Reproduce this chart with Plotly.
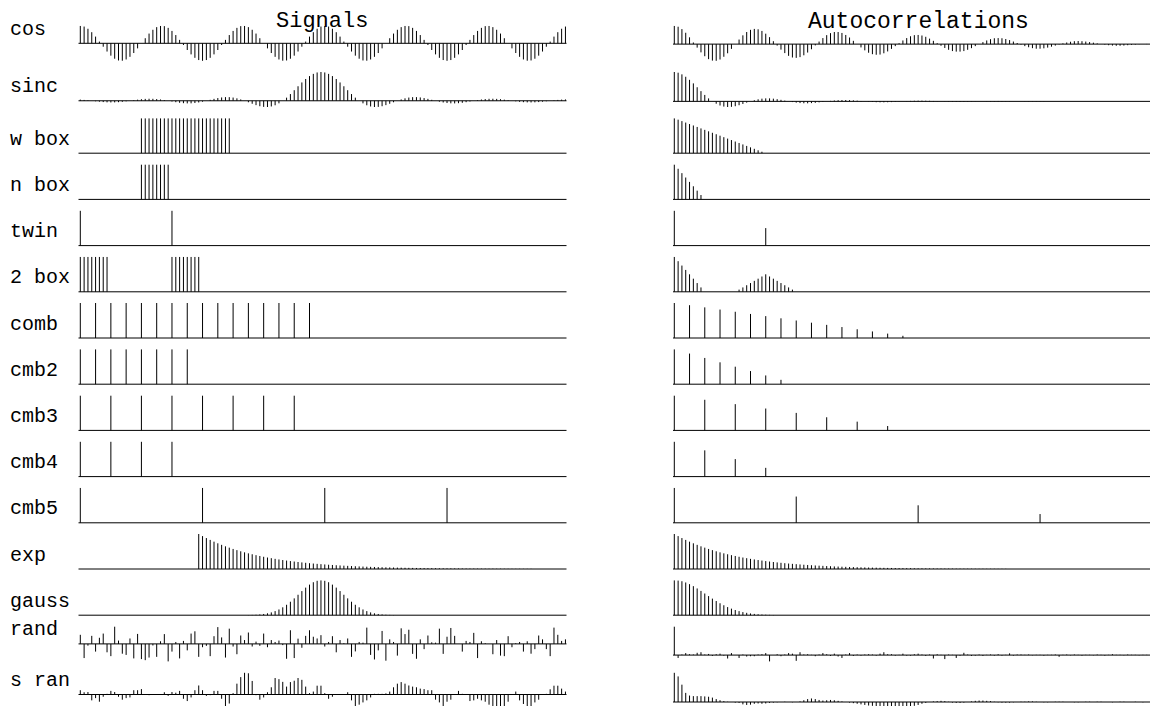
import plotly.graph_objects as go

N = 128
row_labels = ["cos", "sinc", "w box", "n box", "twin", "2 box", "comb", "cmb2",
              "cmb3", "cmb4", "cmb5", "exp", "gauss", "rand", "s ran"]

cos_sig = [1.0, .957, .831, .634, .383, .098, -.195, -.471, -.707, -.882, -.981, -.995, -.924, -.773, -.556, -.290,
           0.0, .290, .556, .773, .924, .995, .981, .882, .707, .471, .195, -.098, -.383, -.634, -.831, -.957,
           -1.0, -.957, -.831, -.634, -.383, -.098, .195, .471, .707, .882, .981, .995, .924, .773, .556, .290,
           0.0, -.290, -.556, -.773, -.924, -.995, -.981, -.882, -.707, -.471, -.195, .098, .383, .634, .831, .957,
           1.0, .957, .831, .634, .383, .098, -.195, -.471, -.707, -.882, -.981, -.995, -.924, -.773, -.556, -.290,
           0.0, .290, .556, .773, .924, .995, .981, .882, .707, .471, .195, -.098, -.383, -.634, -.831, -.957,
           -1.0, -.957, -.831, -.634, -.383, -.098, .195, .471, .707, .882, .981, .995, .924, .773, .556, .290,
           0.0, -.290, -.556, -.773, -.924, -.995, -.981, -.882, -.707, -.471, -.195, .098, .383, .634, .831, .957]

sinc_sig = [.041, .030, .016, 0, -.017, -.032, -.045, -.054, -.058, -.056, -.049, -.036, -.019,
            0, .020, .039, .055, .066, .071, .069, .060, .045, .024,
            0, -.025, -.049, -.070, -.084, -.091, -.089, -.078, -.059, -.032,
            0, .034, .067, .095, .116, .127, .126, .112, .085, .047,
            0, -.052, -.104, -.151, -.189, -.212, -.216, -.198, -.156, -.089,
            0, .109, .234, .368, .505, .637, .757, .858, .935, .984,
            1.0,
            .984, .935, .858, .757, .637, .505, .368, .234, .109, 0,
            -.089, -.156, -.198, -.216, -.212, -.189, -.151, -.104, -.052, 0,
            .047, .085, .112, .126, .127, .116, .095, .067, .034, 0,
            -.032, -.059, -.078, -.089, -.091, -.084, -.070, -.049, -.025, 0,
            .024, .045, .060, .069, .071, .066, .055, .039, .020, 0,
            -.019, -.036, -.049, -.056, -.058, -.054, -.045, -.032, -.017, 0,
            .016, .030, .041, .047]

wbox_idx = [16, 17, 18, 19, 20, 21, 22, 23, 24, 25, 26, 27, 28, 29, 30, 31, 32, 33, 34, 35, 36, 37, 38, 39]
nbox_idx = [16, 17, 18, 19, 20, 21, 22, 23]
twin_idx = [0, 24]
box2_idx = [0, 1, 2, 3, 4, 5, 6, 7, 24, 25, 26, 27, 28, 29, 30, 31]
comb_idx = [0, 4, 8, 12, 16, 20, 24, 28, 32, 36, 40, 44, 48, 52, 56, 60]
cmb2_idx = [0, 4, 8, 12, 16, 20, 24, 28]
cmb3_idx = [0, 8, 16, 24, 32, 40, 48, 56]
cmb4_idx = [0, 8, 16, 24]
cmb5_idx = [0, 32, 64, 96]

exp_decay = [1.000, .940, .884, .831, .781, .734, .690, .648, .610, .573, .539, .506, .476, .447, .421, .395,
             .372, .349, .328, .309, .290, .273, .256, .241, .226, .213, .200, .188, .177, .166, .156, .147,
             .138, .130, .122, .115, .108, .101, .095, .090, .084, .079, .074, .070, .066, .062, .058, .055,
             .051, .048, .045, .043, .040, .038, .035, .033, .031, .029, .028, .026, .024, .023, .022, .020,
             .019, .018, .017, .016, .015, .014, .013, .012, .012, .011, .010, .010, .009, .009, .008, .008,
             .007, .007, .006, .006, .006, .005, .005, .005, .004, .004, .004, .004, .003, .003, .003, .003, .003]
exp_start = 31

gauss_idx = list(range(43, 84))
gauss_val = [.003, .005, .008, .013, .022, .035, .054, .080, .117, .164, .225, .298, .385, .481, .584, .689,
             .788, .874, .942, .985, 1.0, .985, .942, .874, .788, .689, .584, .481, .385, .298, .225, .164,
             .117, .080, .054, .035, .022, .013, .008, .005, .003]

rand_sig = [0.52, -0.81, -0.1, 0.46, -0.44, 0.35, 0.59, -0.48, -0.70, 1.0,
            0.19, -0.56, -0.63, 0.31, -0.83, 0.57, -0.87, -0.93, -0.78, -0.09,
            -0.74, 0.15, 0.56, -1.0, -0.44, 0.11, -0.83, 0.17, -0.37, 0.59,
            0.72, -0.74, -0.19, -0.11, -0.70, 0.44, 0.96, 0.37, -0.78, 0.87,
            -0.15, -0.59, 0.48, 0.22, 0.65, -0.15, 0.13, -0.11, 0.59, -0.19,
            0.22, 0.11, 0.19, -0.07, -0.85, 0.78, -0.81, 0.30, -0.22, 0.46,
            0.78, 0.41, 0.31, 0.50, -0.15, 0.11, 0.44, -0.48, 0.22, 0.04,
            0.31, -0.74, -0.43, 0.11, 0.07, 0.93, -0.63, -0.89, -0.37, 0.74,
            -0.96, 0.26, 0.11, -0.67, 0.89, 0.56, 0.81, -0.57, -0.85, 0.26,
            -0.30, 0.48, 0.09, 0.07, 0.87, -0.57, 0.41, 0.91, 0.46, 0.0,
            -0.44, 0.17, 0.11, 0.63, -0.81, 0.15, 0.04, 0.0, -0.59, 0.22,
            -0.67, -0.70, 0.44, -0.19, 0.04, 0.11, -0.44, 0.15, -0.56, -0.30,
            0.48, 0.26, -0.30, -0.70, 0.93, 0.52, 0.17, 0.26]

sran_sig = [0.19, 0.10, 0.11, -0.26, -0.16, -0.32, -0.10, 0.03, 0.16, 0.11,
            -0.10, -0.23, -0.16, -0.13, 0.19, 0.19, 0.24, 0.02, -0.03, -0.02,
            0.0, 0.02, 0.10, -0.06, 0.11, 0.08, 0.16, -0.19, -0.29, -0.13,
            0.19, 0.40, 0.19, -0.06, -0.03, 0.16, 0.16, -0.19, -0.52, -0.40,
            0.06, 0.48, 0.77, 0.97, 0.94, 0.60, -0.03, -0.23, -0.13, 0.10,
            0.32, 0.73, 0.68, 0.56, 0.35, 0.55, 0.61, 0.73, 0.65, 0.35,
            0.06, 0.13, 0.39, 0.39, 0.06, -0.19, -0.10, 0.02, 0.02, 0.02,
            0.10, -0.26, -0.52, -0.45, -0.35, -0.26, -0.13, 0.03, 0.03, 0.03,
            0.05, 0.13, 0.32, 0.48, 0.55, 0.48, 0.40, 0.35, 0.32, 0.26,
            0.24, 0.19, 0.19, -0.23, -0.35, -0.55, -0.32, -0.23, 0.0, 0.16,
            0.03, 0.0, -0.29, -0.26, -0.19, -0.26, -0.32, -0.45, -0.55, -0.55,
            -0.58, -0.55, -0.32, 0.0, 0.13, -0.26, -0.42, -0.55, -0.52, -0.35,
            -0.23, 0.02, 0.03, 0.23, 0.39, 0.39, 0.26, 0.13]

# ---- autocorrelations ----
cos_ac = [1.00, .95, .82, .62, .37, .09, -.19, -.45, -.66, -.82, -.90, -.91, -.84, -.69, -.50, -.26,
          0, .25, .48, .66, .78, .83, .81, .72, .57, .38, .16, -.08, -.30, -.49, -.64, -.73,
          -.75, -.71, -.61, -.46, -.28, -.07, .14, .33, .49, .60, .66, .66, .61, .50, .36, .18,
          0, -.18, -.34, -.47, -.55, -.58, -.57, -.50, -.40, -.26, -.11, .05, .20, .33, .43, .49,
          .50, .47, .40, .30, .18, .05, -.09, -.21, -.31, -.38, -.41, -.41, -.38, -.31, -.22, -.11,
          0, .11, .20, .27, .32, .33, .32, .28, .22, .14, .06, -.03, -.11, -.17, -.22, -.25,
          -.25, -.23, -.19, -.14, -.08, -.02, .04, .09, .13, .16, .17, .16, .14, .11, .08, .04,
          0, -.03, -.06, -.08, -.09, -.09, -.08, -.06, -.04, -.03, -.01, 0, .01, .01, .01, .01]

sinc_ac = [1.0, .976, .920, .838, .733, .612, .481, .348, .219, .101,
           0, -.081, -.141, -.178, -.192, -.187, -.165, -.131, -.089, -.044,
           0, .039, .070, .092, .102, .102, .092, .075, .052, .026,
           0, -.024, -.044, -.058, -.065, -.066, -.060, -.050, -.034, -.017,
           0, .016, .030, .040, .045, .046, .042, .035, .024, .012,
           0, -.011, -.021, -.029, -.032, -.033, -.030, -.025, -.018, -.009,
           0, .008, .015, .021, .024, .024, .022, .018, .013, .007,
           0, -.006, -.011, -.015, -.017, -.018, -.016, -.013, -.009, -.005,
           0, .004, .008, .011, .012, .013, .012, .009, .007, .003,
           0, -.003, -.006, -.008, -.009, -.009, -.008, -.006, -.004, -.002,
           0, .002, .004, .004, .005, .005, .004, .004, .003, .001,
           0, -.001, -.002, -.003, -.003, -.003, -.003, -.002, -.001, -.001,
           0, .001, .001, .001, .001, .001, .001, 0]

wbox_ac = [1, .958, .917, .875, .833, .792, .75, .708, .667, .625, .583, .542, .5, .458, .417, .375,
           .333, .292, .25, .208, .167, .125, .083, .042]
nbox_ac = [1, .875, .75, .625, .5, .375, .25, .125]
twin_ac_idx = [0, 24]
twin_ac_val = [1, .5]
box2_ac_idx = [0, 1, 2, 3, 4, 5, 6, 7, 17, 18, 19, 20, 21, 22, 23, 24, 25, 26, 27, 28, 29, 30, 31]
box2_ac_val = [1, .875, .75, .625, .5, .375, .25, .125,
               .0625, .125, .1875, .25, .3125, .375, .4375, .5, .4375, .375, .3125, .25, .1875, .125, .0625]
comb_ac_val = [1, .9375, .875, .8125, .75, .6875, .625, .5625, .5, .4375, .375, .3125, .25, .1875, .125, .0625]
cmb8_ac_val = [1, .875, .75, .625, .5, .375, .25, .125]
cmb4_ac_val = [1, .75, .5, .25]

gauss_ac = [1, .993, .971, .935, .887, .830, .764, .694, .620, .546, .474, .405, .341, .284, .232, .187,
            .148, .116, .089, .068, .050, .037, .027, .019, .014, .009, .006, .004, .003, .002, .001]

rand_ac = [1.0, -0.1, 0.02, 0.07, 0.03, 0.02, 0.08, 0.1, 0.02, 0.04,
           -0.03, 0.03, 0.05, -0.02, -0.12, 0.07, 0.0, -0.1, 0.02, -0.05,
           -0.04, -0.04, 0.02, 0.03, 0.07, -0.22, 0.0, 0.03, -0.04, 0.02,
           0.07, 0.05, -0.2, 0.1, 0.02, 0.03, 0.01, -0.04, 0.02, 0.07,
           0.03, -0.03, 0.05, -0.05, -0.1, 0.02, 0.07, -0.03, 0.02, -0.02,
           0.02, 0.03, 0.02, -0.02, 0.05, 0.1, 0.03, 0.03, -0.02, 0.01,
           0.05, -0.02, -0.02, 0.03, 0.05, 0.02, -0.03, 0.02, -0.12, 0.03,
           0.01, -0.14, 0.02, 0.01, -0.1, -0.02, 0.08, 0.02, -0.03, -0.02,
           0.02, -0.03, 0.01, 0.02, -0.02, 0.03, -0.02, 0.01, 0.06, -0.02,
           0.02, 0.02, 0.01, 0.02, -0.01, 0.01, 0.01, -0.02, 0.01, 0.01,
           0.02, -0.06, 0.01, 0.02, -0.01, 0.02, 0.01, -0.02, 0.01, 0.01,
           -0.01, 0.02, 0.01, -0.02, 0.01, 0.03, 0.01, 0.01, -0.01, 0.02,
           0.01, 0.01, -0.01, 0.01, 0.01, 0.0, 0.0, 0.0]

sran_ac = [1.0, .87, .59, .31, .22, .2, .2, .2, .19, .18,
           .15, .1, .06, .03, .01, 0, -.02, -.03, -.08, -.1,
           -.09, -.06, -.05, -.06, -.05, -.03, -.02, -.01, 0, .01,
           0, -.01, 0, .02, .06, .1, .12, .1, .07, .05,
           .06, .07, .06, .04, .02, 0, -.02, -.04, -.06, -.08,
           -.1, -.12, -.13, -.14, -.15, -.17, -.18, -.18, -.18, -.19,
           -.19, -.18, -.16, -.13, -.1, -.06, -.03, 0, .02, .03,
           .04, .03, .01, -.02, -.03, -.03, -.02, 0, .02, .04,
           .05, .05, .04, .03, .01, -.01, -.02, -.02, -.02, -.01,
           0, .01, .01, .02, .02, .01, 0, -.01, -.01, 0,
           .01, .01, .01, 0, 0, -.01, -.01, 0, .01, .01,
           0, .01, .01, 0, 0, -.01, 0, .01, .01, 0,
           0, .01, 0, -.01, 0, .01, .01, 0]


def series(idx, val):
    s = [0.0] * N
    for i, v in zip(idx, val):
        s[i] = v
    return s


def ones(n):
    return [1.0] * n


signals = [
    cos_sig, sinc_sig,
    series(wbox_idx, ones(len(wbox_idx))), series(nbox_idx, ones(len(nbox_idx))),
    series(twin_idx, ones(2)), series(box2_idx, ones(len(box2_idx))),
    series(comb_idx, ones(len(comb_idx))), series(cmb2_idx, ones(len(cmb2_idx))),
    series(cmb3_idx, ones(len(cmb3_idx))), series(cmb4_idx, ones(len(cmb4_idx))),
    series(cmb5_idx, ones(len(cmb5_idx))),
    series(range(exp_start, N), exp_decay),
    series(gauss_idx, gauss_val), rand_sig, sran_sig,
]
autocorrs = [
    cos_ac, sinc_ac,
    series(range(len(wbox_ac)), wbox_ac), series(range(len(nbox_ac)), nbox_ac),
    series(twin_ac_idx, twin_ac_val), series(box2_ac_idx, box2_ac_val),
    series(comb_idx, comb_ac_val), series(cmb2_idx, cmb8_ac_val),
    series(cmb3_idx, cmb8_ac_val), series(cmb4_idx, cmb4_ac_val),
    series(cmb5_idx, cmb4_ac_val),
    series(range(len(exp_decay)), exp_decay),
    series(range(len(gauss_ac)), gauss_ac), rand_ac, sran_ac,
]

# ---- layout geometry (screen pixels; the page body adds an 8px margin) ----
SCREEN_W, SCREEN_H, OFF = 1158, 706, 8
W, H = SCREEN_W - OFF, SCREEN_H - OFF
ROW_TOP0, ROW_PITCH, BAND = 25.8, 46.2, 35.0
PAD = 1.5
cols = [
    dict(x0=80.3, dx=3.82, left=78.5, right=566.5),    # signals
    dict(x0=674.3, dx=3.81, left=673.0, right=1158.0),  # autocorrelations
]
FONT = "Liberation Mono"


def px(x):
    return (x - OFF) / W


def py(y):
    return 1 - (y - OFF) / H


fig = go.Figure()
layout = dict(width=W, height=H, margin=dict(l=0, r=0, t=0, b=0),
              paper_bgcolor="white", plot_bgcolor="white", showlegend=False)
shapes, annotations = [], []


def sfx(n):
    return "" if n == 1 else str(n)


for i, lab in enumerate(row_labels):
    top = ROW_TOP0 + ROW_PITCH * i
    bot = top + BAND
    for c, data in enumerate([signals[i], autocorrs[i]]):
        n = i * 2 + c + 1
        s = sfx(n)
        col = cols[c]
        ymin = min(0.0, min(data))
        ymax = max(data)
        span = ymax - ymin
        per_px = span / BAND
        pbot = min(bot + PAD, SCREEN_H)
        rlo = ymin - (pbot - bot) * per_px
        layout[f"xaxis{s}"] = dict(
            domain=[px(col["left"]), px(col["right"])],
            range=[(col["left"] - col["x0"]) / col["dx"], (col["right"] - col["x0"]) / col["dx"]],
            visible=False, anchor=f"y{s}", fixedrange=True)
        layout[f"yaxis{s}"] = dict(
            domain=[py(pbot), py(top)], range=[rlo, ymax],
            visible=False, anchor=f"x{s}", fixedrange=True)
        xs, ys = [], []
        for k, v in enumerate(data):
            if v != 0:
                xs += [k, k, None]
                ys += [0, v, None]
        fig.add_trace(go.Scatter(x=xs, y=ys, mode="lines", xaxis=f"x{s}", yaxis=f"y{s}",
                                 line=dict(color="black", width=1), hoverinfo="skip"))
        shapes.append(dict(type="line", xref=f"x{s} domain", x0=0, x1=1, yref=f"y{s}", y0=0, y1=0,
                           line=dict(color="black", width=1)))
        if c == 0:
            annotations.append(dict(text=lab, xref="paper", x=px(8), xanchor="left",
                                    yref=f"y{s}", y=0, yanchor="middle", yshift=14, showarrow=False,
                                    font=dict(family=FONT, size=20, color="black")))

annotations.append(dict(text="Signals", xref="paper", yref="paper", x=px(322), y=py(8),
                        xanchor="center", yanchor="top", showarrow=False, borderpad=0,
                        font=dict(family=FONT, size=22, color="black")))
annotations.append(dict(text="Autocorrelations", xref="paper", yref="paper", x=px(918), y=py(8),
                        xanchor="center", yanchor="top", showarrow=False, borderpad=0,
                        font=dict(family=FONT, size=23, color="black")))
layout["shapes"] = shapes
layout["annotations"] = annotations
fig.update_layout(**layout)
fig.write_html("out.html")
